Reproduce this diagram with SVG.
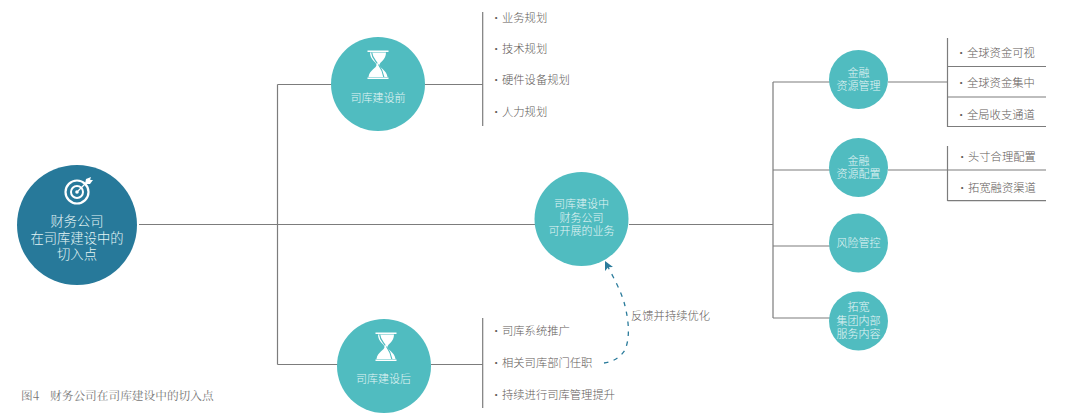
<svg xmlns="http://www.w3.org/2000/svg" width="1080" height="416" viewBox="0 0 1080 416">
<style>
text{font-family:"Noto Sans CJK SC","Liberation Sans",sans-serif}
.ln{stroke:#7c7c7c;stroke-width:1.200;fill:none}
.c{fill:#50bcc0}
.w{fill:#e4f5f5;font-size:11px;text-anchor:middle;font-weight:300}
.big{font-size:13.300px}
.t{fill:#625b59;font-size:11.300px;font-weight:300}
.ic{fill:#fff}
</style>
<defs>
<marker id="ah" markerWidth="10" markerHeight="10" refX="9" refY="5" orient="auto" markerUnits="userSpaceOnUse"><path d="M0,0.500 L9,5 L0,9.500 L2,5 Z" fill="#2a7b9b"/></marker>
<g id="hg">
<path class="ic" d="M-10.500 -18.500H10.500V-17H-10.500ZM-10.500 8.500H10.500V10H-10.500Z"/>
<path d="M-8,-16.500C-8,-9 -1.500,-7 -1.500,-4C-1.500,-1 -8.500,1 -9.500,8H9.500C8.500,1 1.500,-1 1.500,-4C1.500,-7 8,-9 8,-16.500Z" fill="#fff"/>
<path d="M-6.300,-16.500C-6,-11 -2.500,-8.500 -0.800,-5.500M0.500,-4.500C3,-1 5,3 5.800,8" stroke="#50bcc0" stroke-width="1.200" fill="none"/>
</g>
</defs>
<g id="connectors">
<path class="ln" d="M139,224.500H535M277.500,84.500V364.500M277.500,84.500H332M277.500,364.500H338M425,84.500H483M431,364.500H483M482.700,12V126M482.700,318V408"/>
<path class="ln" d="M629,224.500H773M773,82V318M773,82H830M773,170H830M773,246H830M773,318H830"/>
<path class="ln" d="M888,82H947.500M947.500,38V127M947.500,66.500H1046M947.500,97H1046M947.500,126.500H1046M888,170H1046M947.500,146V201M947.500,200.700H1046"/>
<path d="M604,363C612,362 620,358 625,350C630,338 629,322 625,306C622,292 612,275 605,261" fill="none" stroke="#2a7b9b" stroke-width="1.300" stroke-dasharray="4.500 5.500" marker-end="url(#ah)"/>
</g>
<g id="node-root">
<circle cx="77" cy="225" r="60" fill="#27799a"/>
<g fill="none" stroke="#fff"><circle cx="77" cy="192" r="11.500" stroke-width="2.200"/><circle cx="77" cy="192" r="6" stroke-width="2"/><circle cx="77" cy="192" r="1.800" fill="#fff" stroke="none"/><path d="M78,191L90,179" stroke-width="1.300"/></g>
<path class="ic" d="M85,184L86,179L91,177L90,180L93,180L90,184Z"/>
<text class="w big" x="77" y="226">财务公司</text>
<text class="w big" x="77" y="243">在司库建设中的</text>
<text class="w big" x="77" y="259">切入点</text>
</g>
<g id="node-before">
<circle class="c" cx="378" cy="84" r="47"/>
<use href="#hg" x="378" y="69"/>
<text class="w" x="378" y="102">司库建设前</text>
</g>
<g id="node-after">
<circle class="c" cx="384" cy="366" r="47"/>
<use href="#hg" x="386" y="351"/>
<text class="w" x="383.500" y="383">司库建设后</text>
</g>
<g id="node-center">
<circle class="c" cx="581.500" cy="219" r="47"/>
<text class="w" x="581.500" y="208">司库建设中</text>
<text class="w" x="581.500" y="222">财务公司</text>
<text class="w" x="581.500" y="235">可开展的业务</text>
</g>
<g id="node-fin1"><circle class="c" cx="858.500" cy="79.500" r="29.500"/><text class="w" x="858.500" y="77">金融</text><text class="w" x="858.500" y="90">资源管理</text></g>
<g id="node-fin2"><circle class="c" cx="858.500" cy="167.500" r="29.500"/><text class="w" x="858.500" y="165">金融</text><text class="w" x="858.500" y="178">资源配置</text></g>
<g id="node-risk"><circle class="c" cx="858.500" cy="243" r="29.500"/><text class="w" x="858.500" y="247">风险管控</text></g>
<g id="node-expand"><circle class="c" cx="858.500" cy="321" r="29.500"/><text class="w" x="858.500" y="311">拓宽</text><text class="w" x="858.500" y="325">集团内部</text><text class="w" x="858.500" y="338">服务内容</text></g>
<g id="labels" class="t">
<text><tspan x="490.500" y="21.500">·</tspan><tspan x="502" y="21.500">业务规划</tspan></text>
<text><tspan x="490.500" y="53">·</tspan><tspan x="502" y="53">技术规划</tspan></text>
<text><tspan x="490.500" y="84">·</tspan><tspan x="502" y="84">硬件设备规划</tspan></text>
<text><tspan x="490.500" y="116">·</tspan><tspan x="502" y="116">人力规划</tspan></text>
<text><tspan x="490.500" y="335">·</tspan><tspan x="502" y="335">司库系统推广</tspan></text>
<text><tspan x="490.500" y="367">·</tspan><tspan x="502" y="367">相关司库部门任职</tspan></text>
<text><tspan x="490.500" y="398.500">·</tspan><tspan x="502" y="398.500">持续进行司库管理提升</tspan></text>
<text x="631" y="320">反馈并持续优化</text>
<text><tspan x="955.500" y="56.500">·</tspan><tspan x="967" y="56.500">全球资金可视</tspan></text>
<text><tspan x="955.500" y="87">·</tspan><tspan x="967" y="87">全球资金集中</tspan></text>
<text><tspan x="955.500" y="118.500">·</tspan><tspan x="967" y="118.500">全局收支通道</tspan></text>
<text><tspan x="956.500" y="161">·</tspan><tspan x="968" y="161">头寸合理配置</tspan></text>
<text><tspan x="956.500" y="192">·</tspan><tspan x="968" y="192">拓宽融资渠道</tspan></text>
</g>
<text font-size="11.700" fill="#767676" style="font-family:'Noto Serif CJK SC','Noto Sans CJK SC',serif"><tspan x="21" y="400">图4</tspan><tspan x="50" y="400">财务公司在司库建设中的切入点</tspan></text>
</svg>
